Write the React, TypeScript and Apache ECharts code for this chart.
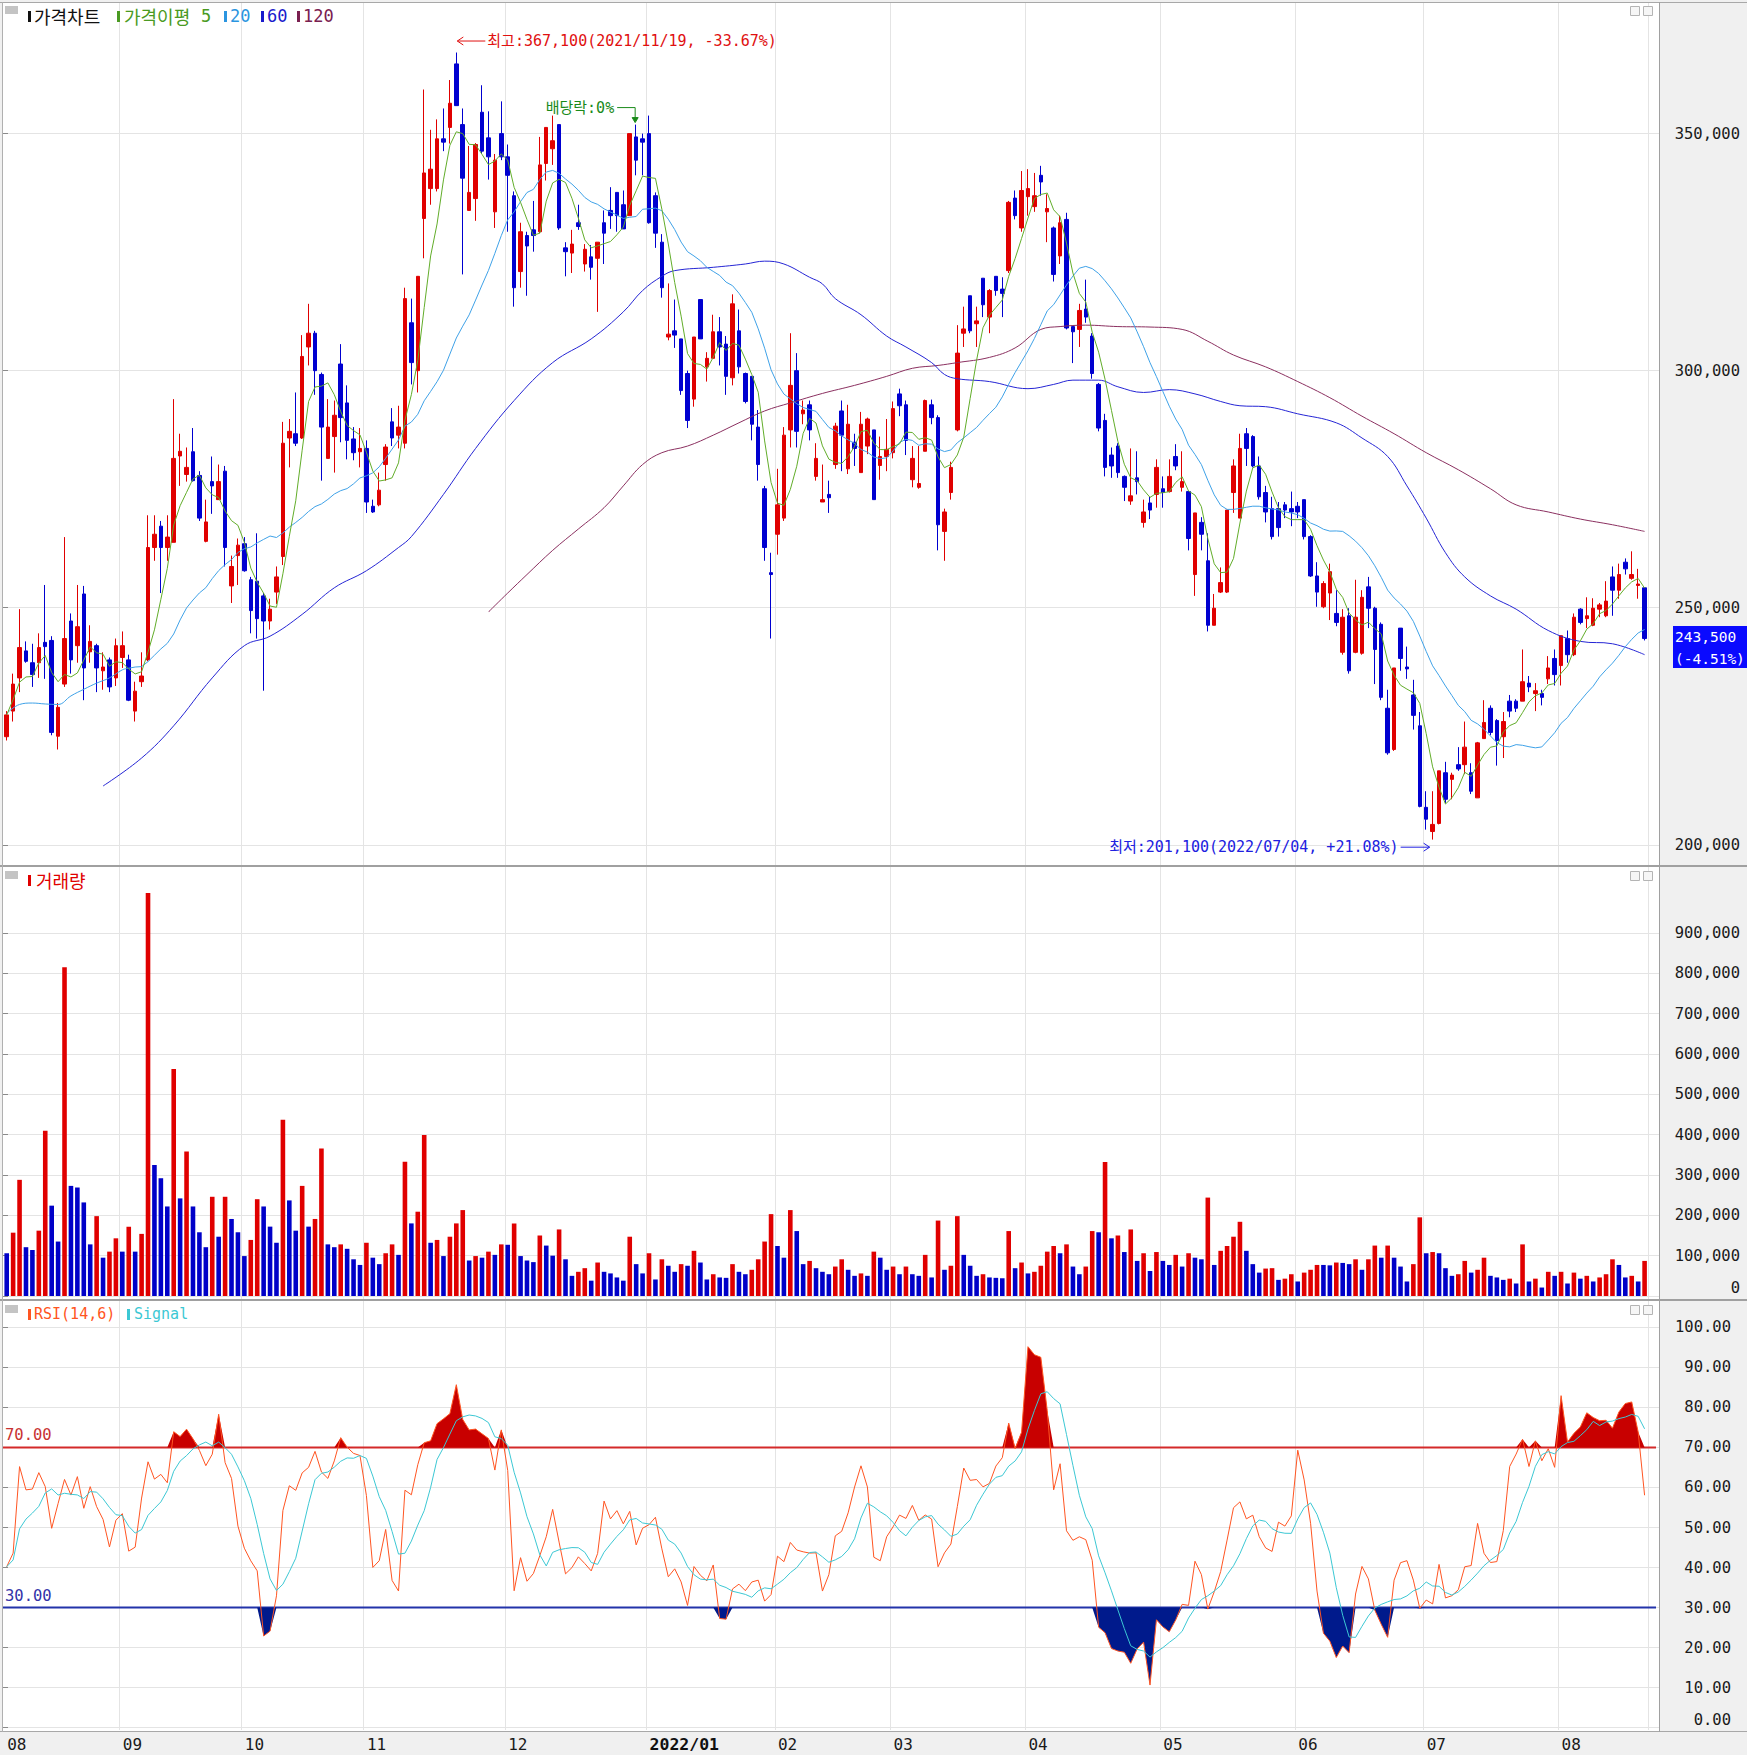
import React, { useEffect, useRef } from 'react';
import * as echarts from 'echarts';

// ---------- calendar (KRX trading days) ----------
const FIRST_DAY = '2021-08-05';
const LAST_DAY = '2022-08-19';
const HOLIDAYS = ['2021-08-16', '2021-09-20', '2021-09-21', '2021-09-22', '2021-10-04', '2021-10-11', '2021-12-31', '2022-01-31', '2022-02-01', '2022-02-02', '2022-03-01', '2022-03-09', '2022-05-05', '2022-06-01', '2022-06-06', '2022-08-15'];

// ---------- price data (won) ----------
const OPEN = [
  222800, 228200, 235200, 240900, 238400, 238400, 242700, 243100, 222900, 233900,
  247200, 242000, 252900, 240700, 242000, 236700, 239000, 235200, 239500, 239000,
  228200, 234400, 239000, 262700, 267200, 262700, 263800, 282000, 278100, 282900,
  277900, 264000, 276600, 272800, 278800, 254600, 261000, 263500, 255900, 255600,
  252500, 247200, 253300, 260800, 285800, 286700, 285800, 305000, 307900, 299200,
  281500, 286100, 301400, 293200, 285600, 282900, 283600, 271400, 271700, 280200,
  289200, 286400, 284700, 310100, 300000, 332100, 338400, 338400, 348900, 351300,
  364700, 351900, 333800, 336300, 354500, 349100, 333500, 350000, 345100, 336900,
  320900, 328500, 329700, 329300, 343700, 346800, 351900, 325900, 324800, 331200,
  322500, 324000, 323700, 331200, 333800, 337600, 335000, 332700, 349300, 348900,
  350000, 336900, 327100, 307100, 308400, 306700, 299400, 294000, 315000, 300800,
  302600, 308200, 305600, 298500, 308400, 299400, 298800, 288100, 275100, 257400,
  265500, 268900, 287500, 300000, 290900, 292800, 277700, 272300, 273900, 280200,
  291500, 279300, 284900, 278500, 284100, 287500, 280000, 281900, 282700, 295100,
  292800, 277000, 275400, 283000, 292800, 290100, 266100, 274300, 287500, 307900,
  315800, 309900, 319500, 311300, 319900, 317200, 321100, 336400, 330100, 336700,
  334600, 341200, 333500, 330100, 324200, 331900, 309300, 308700, 313000, 307300,
  297100, 289500, 282200, 284100, 277700, 272500, 277400, 268000, 272100, 273900,
  275100, 274500, 281900, 275400, 274500, 257000, 268000, 259900, 246300, 253300,
  253300, 274300, 268900, 286700, 286100, 279900, 274300, 270900, 270900, 271700,
  270900, 271400, 272800, 265000, 256700, 250200, 253100, 248800, 240600, 248300,
  240600, 240400, 254400, 249900, 246500, 228800, 220100, 245700, 237500, 231600,
  225100, 207900, 202800, 204500, 215200, 213800, 216900, 216900, 215200, 209900,
  222400, 228800, 226200, 222800, 230300, 230300, 230300, 234100, 231900, 231900,
  235000, 239300, 237800, 243500, 240100, 249700, 247700, 246300, 249700, 248300,
  256500, 253700, 259600, 256200, 254700, 254200,
];
const HIGH = [
  228200, 236100, 249700, 242900, 242400, 244600, 254800, 244000, 229900, 264900,
  248800, 254800, 254600, 246300, 242400, 240600, 239500, 243500, 245000, 240100,
  234400, 240600, 269500, 269500, 268300, 269500, 294000, 286700, 283800, 287900,
  278800, 272800, 281900, 280200, 279900, 261000, 264600, 264900, 256500, 265700,
  253100, 251900, 258700, 289200, 289800, 295400, 307500, 314100, 308400, 299600,
  294000, 293700, 305600, 296900, 288100, 287900, 285300, 272800, 278500, 284500,
  292100, 292600, 317500, 315200, 319900, 359300, 350800, 353000, 355300, 361300,
  367100, 355300, 347400, 348000, 360200, 354700, 345700, 356800, 347700, 337800,
  331200, 329300, 335800, 349300, 351300, 353800, 351900, 327100, 329700, 335000,
  326700, 326500, 327100, 333800, 338700, 337600, 338000, 350000, 351900, 350000,
  353800, 337600, 328800, 318400, 315000, 306700, 300000, 307100, 315000, 303900,
  311800, 311300, 307300, 316100, 312900, 299600, 298800, 291700, 275700, 261600,
  279300, 288100, 307900, 303700, 293700, 293700, 284700, 280200, 276800, 289000,
  293700, 292800, 286700, 291300, 290100, 287500, 286100, 289800, 293500, 296200,
  293700, 284100, 284100, 293900, 293900, 290600, 270900, 280800, 309600, 313500,
  315800, 313500, 319500, 317200, 319900, 319700, 335800, 338000, 342100, 342500,
  341700, 343200, 337200, 330400, 332700, 333300, 309300, 314100, 319200, 307900,
  297400, 290900, 283800, 284700, 277900, 283600, 283000, 272800, 273400, 281300,
  277700, 281300, 284500, 283000, 274500, 270000, 269100, 265700, 252900, 258500,
  270600, 281300, 286700, 287900, 286400, 281900, 275700, 273400, 272300, 272300,
  274500, 272300, 272800, 265300, 259600, 255600, 259300, 253700, 249700, 249900,
  255900, 253700, 256500, 250200, 246900, 232700, 237300, 245700, 241800, 234800,
  228000, 211300, 211300, 215600, 217500, 215200, 220600, 226000, 217200, 221700,
  230500, 229400, 226500, 228000, 231600, 230700, 241200, 235600, 234100, 232700,
  239800, 241200, 244100, 245200, 248800, 249900, 252200, 252000, 251000, 255600,
  258700, 259300, 260400, 261900, 258200, 254200,
];
const LOW = [
  222000, 226000, 232200, 238400, 233300, 235200, 235000, 223100, 220100, 233300,
  236100, 238400, 230500, 238400, 232200, 232700, 232200, 233500, 237300, 230300,
  226000, 233300, 238700, 259900, 253100, 259900, 263800, 275700, 276600, 276600,
  268300, 263800, 269800, 272800, 258700, 251000, 254800, 257600, 244600, 243500,
  232500, 245400, 250800, 259000, 279600, 284100, 285600, 301100, 294900, 276800,
  281500, 278500, 284900, 281300, 281100, 279600, 270000, 270000, 271400, 276800,
  284100, 283600, 283600, 297100, 295400, 323700, 335000, 337800, 346300, 347900,
  355900, 320300, 333800, 331600, 345700, 340300, 330100, 344400, 329300, 313500,
  317500, 315800, 325100, 329000, 340100, 343400, 329700, 319900, 320600, 329700,
  320900, 319200, 312400, 322500, 329900, 329300, 329900, 332700, 341200, 341200,
  331000, 325900, 315400, 306400, 304800, 294900, 287900, 292400, 306700, 297700,
  302600, 301100, 294900, 296900, 299400, 293100, 285300, 276800, 259900, 243500,
  261200, 268300, 283800, 283800, 288700, 285300, 276800, 272300, 270000, 279300,
  278800, 278200, 279900, 278500, 282400, 272800, 277000, 278800, 281500, 290400,
  282200, 275400, 275100, 283000, 288700, 262100, 259900, 272800, 287200, 305000,
  307900, 305000, 311300, 307900, 315800, 311300, 320600, 331900, 329300, 332700,
  333500, 336900, 327100, 318800, 322500, 308700, 301600, 305000, 310100, 298300,
  287200, 277700, 277400, 277400, 272500, 271700, 273900, 266900, 268700, 271100,
  271100, 274300, 279000, 274500, 262100, 252500, 262100, 245000, 246300, 253100,
  253100, 270000, 268900, 279900, 279600, 272800, 268000, 264400, 265000, 268900,
  267200, 268900, 264400, 256500, 250200, 249900, 247400, 246100, 240100, 236100,
  240400, 240100, 245700, 233900, 230500, 219000, 219800, 236700, 235000, 224300,
  207900, 203200, 201100, 204300, 208800, 209600, 215600, 214900, 210700, 209900,
  222400, 223100, 216700, 218300, 226900, 228000, 230300, 232200, 228200, 229400,
  233900, 233600, 233600, 238400, 239800, 246500, 245700, 246100, 248000, 248000,
  248300, 251900, 257000, 255900, 251900, 243100,
];
const CLOSE = [
  227400, 233900, 241600, 238700, 235900, 241600, 241800, 223700, 229000, 243500,
  239000, 246000, 237300, 242900, 237300, 237500, 233300, 242000, 242000, 230500,
  232400, 235600, 262700, 265500, 262700, 264900, 281500, 283000, 279600, 276800,
  268900, 268100, 275700, 276600, 262700, 258700, 263200, 257800, 249400, 247700,
  247200, 249700, 256500, 284700, 287200, 284700, 303000, 307900, 300000, 288100,
  288100, 290600, 290100, 285300, 282700, 283600, 272300, 270200, 274800, 283900,
  285800, 288100, 315200, 301700, 319900, 341700, 342500, 348900, 348200, 356400,
  355900, 340600, 337600, 347700, 346300, 345100, 344400, 345100, 341200, 317500,
  329300, 326300, 328500, 343400, 351300, 348500, 330100, 325100, 326700, 330400,
  325600, 321800, 327100, 329000, 332700, 332700, 329900, 350000, 344400, 348200,
  331200, 329000, 317500, 307700, 307500, 295800, 289500, 307100, 306700, 302600,
  308200, 305000, 298800, 314100, 300800, 293500, 288700, 280200, 262700, 257000,
  271700, 286400, 296900, 287200, 291700, 287500, 281500, 272800, 273200, 288300,
  286400, 288700, 283600, 288700, 289800, 272800, 281900, 283400, 292000, 292600,
  285300, 281500, 276200, 293700, 290100, 267500, 270200, 279600, 303700, 308800,
  308400, 310500, 313900, 316900, 316900, 316300, 335500, 332700, 338000, 338400,
  336900, 339800, 334200, 320300, 331200, 309000, 308200, 312700, 311300, 299400,
  287900, 279600, 279900, 278500, 275400, 273600, 276600, 270200, 270600, 279600,
  274300, 277700, 279900, 276600, 264600, 270000, 265500, 246300, 249900, 255300,
  270600, 279900, 283600, 283600, 279900, 273400, 270200, 265000, 266900, 270600,
  270200, 270200, 265000, 256700, 253300, 255100, 257600, 246900, 248000, 236700,
  248000, 252200, 249900, 241200, 231100, 219400, 237300, 239300, 237100, 227300,
  208100, 205400, 204300, 215600, 209600, 214700, 216000, 220600, 211300, 221500,
  225800, 223700, 222000, 226000, 228200, 228800, 234400, 233300, 232500, 231100,
  237300, 235900, 244100, 240100, 248000, 246900, 248300, 249900, 250600, 251400,
  253700, 257000, 258200, 257000, 255000, 243500,
];

// ---------- volume (thousand shares) ----------
const VOLUME_K = [
  106, 157, 288, 121, 114, 162, 410, 224, 135, 815,
  273, 269, 232, 128, 198, 95, 110, 143, 110, 172,
  110, 154, 999, 325, 292, 222, 563, 242, 358, 222,
  158, 121, 246, 147, 246, 191, 158, 99, 139, 240,
  222, 172, 132, 437, 237, 162, 273, 172, 191, 366,
  128, 121, 128, 117, 91, 77, 132, 95, 79, 106,
  128, 102, 333, 180, 209, 399, 132, 139, 99, 147,
  180, 213, 88, 99, 95, 110, 102, 128, 127, 180,
  99, 88, 84, 150, 125, 100, 165, 91, 50, 60,
  69, 38, 83, 60, 56, 46, 38, 147, 79, 56,
  106, 41, 91, 75, 60, 79, 75, 112, 83, 41,
  54, 46, 45, 79, 60, 54, 65, 91, 135, 203,
  124, 95, 213, 161, 79, 87, 69, 60, 54, 73,
  91, 65, 50, 56, 50, 110, 95, 65, 73, 54,
  73, 54, 50, 102, 46, 187, 65, 75, 198, 102,
  75, 50, 54, 46, 45, 44, 161, 69, 83, 56,
  60, 75, 110, 124, 106, 128, 73, 54, 73, 161,
  158, 332, 143, 150, 109, 165, 87, 106, 62, 109,
  87, 77, 102, 73, 106, 95, 91, 244, 77, 112,
  124, 147, 184, 112, 79, 58, 68, 69, 40, 43,
  54, 36, 58, 65, 77, 77, 76, 83, 82, 79,
  91, 65, 91, 125, 95, 125, 95, 73, 36, 79,
  195, 106, 109, 106, 69, 50, 54, 87, 58, 65,
  95, 50, 46, 40, 43, 31, 128, 36, 43, 21,
  60, 50, 60, 31, 58, 43, 50, 36, 46, 54,
  91, 77, 46, 50, 36, 87,
];

// ---------- moving averages (index, value) ----------
const MA20_HEAD: [number, number][] = [
  [0, 227700], [2, 229600], [4, 229900], [6, 229700], [8, 229600], [10, 231400],
  [12, 232800], [14, 234100], [16, 235200], [18, 236900],
];
const MA60_PTS: [number, number][] = [
  [15, 212400], [21, 218300], [26, 225100], [32, 235200], [37, 242000], [41, 244000],
  [46, 248600], [51, 254200], [56, 257800], [61, 262700], [63, 265000], [68, 273900],
  [73, 283600], [79, 293700], [85, 301700], [91, 306700], [96, 312400], [99, 316900],
  [102, 319900], [104, 321100], [110, 321800], [115, 322500], [118, 323100], [121, 322500],
  [125, 319700], [127, 318300], [129, 315200], [133, 311800], [137, 307300], [140, 305000],
  [144, 301700], [146, 299200], [148, 298300], [153, 297700], [159, 296200], [163, 297100],
  [166, 298000], [170, 298000], [173, 296600], [177, 295400], [181, 296000], [185, 295100],
  [189, 293500], [192, 292600], [196, 292400], [201, 290900], [207, 289000], [211, 285800],
  [215, 281900], [218, 275700], [221, 268900], [224, 261600], [227, 256500], [231, 252500],
  [235, 249700], [240, 245200], [245, 242900], [250, 242400], [255, 240100],
];
const MA120_PTS: [number, number][] = [
  [75, 249100], [78, 253100], [81, 257000], [85, 262100], [89, 266600], [93, 271100],
  [96, 275700], [99, 280200], [102, 282700], [106, 284100], [110, 286400], [114, 289000],
  [118, 291500], [122, 293200], [127, 295200], [132, 296900], [137, 298800], [141, 300500],
  [145, 301100], [148, 301700], [153, 302800], [157, 304800], [161, 308700], [164, 309300],
  [168, 309600], [173, 309300], [178, 309200], [183, 308700], [187, 306200], [191, 303300],
  [196, 300800], [201, 297700], [206, 294300], [211, 290400], [216, 286700], [221, 282700],
  [226, 279100], [231, 275100], [235, 271700], [240, 270200], [245, 268700], [250, 267500],
  [255, 266100],
];
// first 14 RSI values (history before the window)
const RSI_HEAD = [40.2, 43.6, 65.2, 59.4, 59.6, 63.7, 60.2, 49.8, 56.0, 62.0, 58.1, 62.7, 54.8, 60.2];
const RSI_N = 14;
const SIGNAL_N = 6;

// ---------- texts ----------
const HIGH_NOTE = { index: 70, value: 367100, text: '최고:367,100(2021/11/19, -33.67%)' };
const LOW_NOTE = { index: 222, value: 201100, text: '최저:201,100(2022/07/04, +21.08%)' };
const EXDIV_NOTE = { index: 98, text: '배당락:0%' };
const LAST_TEXT = ['243,500', '(-4.51%)'];

// ---------- colors / fonts ----------
const C_UP = '#e00000';
const C_DN = '#0000d0';
const C_MA5 = '#62ad2a';
const C_MA20 = '#3fa2e8';
const C_MA60 = '#2525d5';
const C_MA120 = '#8b3060';
const C_RSI = '#ff5522';
const C_SIG = '#3cc8d4';
const GRID_C = '#e4e4e4';
const MONO = '"DejaVu Sans Mono"';
const KR = '"Noto Sans CJK KR"';
const MIX = '"DejaVu Sans Mono", "Noto Sans CJK KR"';

function buildDates(): string[] {
  const hol = new Set(HOLIDAYS);
  const out: string[] = [];
  const d = new Date(FIRST_DAY + 'T00:00:00Z');
  const end = new Date(LAST_DAY + 'T00:00:00Z').getTime();
  while (d.getTime() <= end) {
    const s = d.toISOString().slice(0, 10);
    const wd = d.getUTCDay();
    if (wd !== 0 && wd !== 6 && !hol.has(s)) out.push(s);
    d.setUTCDate(d.getUTCDate() + 1);
  }
  return out;
}

export default function App() {
  const ref = useRef<HTMLDivElement>(null);
  useEffect(() => {
    const el = ref.current!;
    const chart = echarts.init(el, undefined, { renderer: 'svg' });
    const DATES = buildDates();
    const N = CLOSE.length;
    const MONTH_START = DATES.map((d, i) => i === 0 || d.slice(0, 7) !== DATES[i - 1].slice(0, 7));
    const monthLabel = (i: number) => {
      const d = DATES[i];
      const m = d.slice(5, 7);
      return m === '01' ? `{b|${d.slice(0, 4)}/01}` : m;
    };

    const avg = (arr: number[], a: number, b: number) => {
      let t = 0;
      for (let j = a; j <= b; j++) t += arr[j];
      return t / (b - a + 1);
    };
    const CANDLES = OPEN.map((o, i) => [o, CLOSE[i], LOW[i], HIGH[i]]);
    const MA5 = CLOSE.map((_, i) => Math.round(avg(CLOSE, Math.max(0, i - 4), i)));
    const MA20_START = 19;
    const MA20_TAIL = CLOSE.map((_, i) => (i < MA20_START ? null : Math.round(avg(CLOSE, i - 19, i))));
    const MA20_HEAD_LINE = [...MA20_HEAD, [MA20_START, MA20_TAIL[MA20_START] as number]];
    const RSI = CLOSE.map((_, i) => {
      if (i < RSI_N) return RSI_HEAD[i];
      let g = 0;
      let l = 0;
      for (let j = i - RSI_N + 1; j <= i; j++) {
        const dd = CLOSE[j] - CLOSE[j - 1];
        if (dd > 0) g += dd;
        else l -= dd;
      }
      return g + l === 0 ? 50 : (100 * g) / (g + l);
    });
    const SIGNAL = RSI.map((_, i) => avg(RSI, Math.max(0, i - SIGNAL_N + 1), i));
    const VOL = VOLUME_K.map((v) => v * 1000);
    const VOL_ITEMS = VOL.map((v, i) => ({
      value: v,
      itemStyle: { color: i > 0 && v > VOL[i - 1] ? C_UP : '#0000c8' },
    }));

    const DATA_LEFT = 3.5;
    const DATA_W = 1644.3;
    const FRAME_LEFT = 3;
    const FRAME_W = 1656;
    const P_TOP = 133.6, P_H = 711.2;
    const V_TOP = 933, V_H = 363;
    const R_TOP = 1327.3, R_H = 400.4;

    // bottom label of a panel sits a little above its line (kept inside the panel)
    const lift = (s: string, v: number, min: number) => (v === min ? `{z|${s}}` : s);
    const fmtComma = (min: number) => (v: number) => lift(Math.round(v).toLocaleString('en-US'), v, min);
    const fmtFix = (min: number) => (v: number) => lift(v.toFixed(2), v, min);
    const frameY = (gi: number, min: number, max: number, interval: number, fmt: (v: number) => string, margin: number, liftPad: number) => ({
      type: 'value', gridIndex: gi, position: 'right', min, max, interval,
      axisLine: { show: false },
      axisTick: { show: true, length: 5, lineStyle: { color: '#8a8a8a' } },
      axisLabel: {
        formatter: fmt, align: 'right', margin, fontFamily: MONO, fontSize: 15.5, color: '#1a1a1a',
        rich: { z: { fontFamily: MONO, fontSize: 15.5, color: '#1a1a1a', padding: [0, 0, liftPad, 0] } },
      },
      splitLine: { show: true, lineStyle: { color: GRID_C, width: 1 } },
    });
    const hidden = { show: false };
    const lineS = (xi: number, yi: number, data: any, color: string, smooth: any = false) => ({
      type: 'line', xAxisIndex: xi, yAxisIndex: yi, data, symbol: 'none', smooth,
      lineStyle: { color, width: 1 }, clip: false, silent: true, connectNulls: false,
    });

    const option: any = {
      animation: false,
      backgroundColor: '#f0f0f0',
      grid: [
        { left: DATA_LEFT, width: DATA_W, top: P_TOP, height: P_H },
        { left: DATA_LEFT, width: DATA_W, top: V_TOP, height: V_H },
        { left: DATA_LEFT, width: DATA_W, top: R_TOP, height: R_H },
        { left: FRAME_LEFT, width: FRAME_W, top: P_TOP, height: P_H },
        { left: FRAME_LEFT, width: FRAME_W, top: V_TOP, height: V_H },
        { left: FRAME_LEFT, width: FRAME_W, top: R_TOP, height: R_H },
        { left: 4, width: DATA_W, top: 3, height: 1727 },
      ],
      xAxis: [
        { type: 'category', gridIndex: 0, data: DATES, boundaryGap: true, ...hidden },
        { type: 'category', gridIndex: 1, data: DATES, boundaryGap: true, ...hidden },
        { type: 'category', gridIndex: 2, data: DATES, boundaryGap: true, ...hidden },
        { type: 'value', gridIndex: 0, min: -0.5, max: N - 0.5, position: 'top', ...hidden },
        {
          type: 'category', gridIndex: 6, data: DATES, boundaryGap: true, position: 'bottom',
          axisLine: { show: false }, axisTick: { show: false },
          axisLabel: {
            interval: (i: number) => MONTH_START[i],
            formatter: (_v: string, i: number) => monthLabel(i),
            align: 'left', margin: 6, fontFamily: MONO, fontSize: 16, color: '#1a1a1a',
            rich: { b: { fontWeight: 'bold', fontSize: 16.5, fontFamily: MONO, color: '#111' } },
          },
          splitLine: { show: true, interval: (i: number) => MONTH_START[i] && i > 0, lineStyle: { color: GRID_C, width: 1 } },
        },
        { type: 'value', gridIndex: 3, min: 0, max: 1, ...hidden },
        { type: 'value', gridIndex: 4, min: 0, max: 1, ...hidden },
        { type: 'value', gridIndex: 5, min: 0, max: 1, ...hidden },
      ],
      yAxis: [
        { type: 'value', gridIndex: 0, min: 200000, max: 350000, ...hidden },
        { type: 'value', gridIndex: 1, min: 0, max: 900000, ...hidden },
        { type: 'value', gridIndex: 2, min: 0, max: 100, ...hidden },
        frameY(3, 200000, 350000, 50000, fmtComma(-1), 81, 0),
        frameY(4, 0, 900000, 100000, fmtComma(0), 81, 16),
        frameY(5, 0, 100, 10, fmtFix(0), 72, 16),
        { type: 'value', gridIndex: 6, min: 0, max: 1, ...hidden },
      ],
      series: [
        {
          type: 'candlestick', xAxisIndex: 0, yAxisIndex: 0, data: CANDLES, barWidth: 4, clip: false, silent: true,
          itemStyle: { color: C_UP, color0: C_DN, borderColor: C_UP, borderColor0: C_DN, borderWidth: 1 },
        },
        lineS(3, 0, MA120_PTS, C_MA120, 0.4),
        lineS(3, 0, MA60_PTS, C_MA60, 0.4),
        lineS(3, 0, MA20_HEAD_LINE, C_MA20, 0.4),
        lineS(0, 0, MA20_TAIL, C_MA20),
        lineS(0, 0, MA5, C_MA5),
        { type: 'bar', xAxisIndex: 1, yAxisIndex: 1, data: VOL_ITEMS, barWidth: 4.6, clip: false, silent: true },
        { type: 'line', xAxisIndex: 2, yAxisIndex: 2, stack: 'hi', data: RSI.map(() => 70), symbol: 'none', lineStyle: { width: 0, opacity: 0 }, silent: true },
        { type: 'line', xAxisIndex: 2, yAxisIndex: 2, stack: 'hi', data: RSI.map((r) => Math.max(r, 70) - 70), symbol: 'none', lineStyle: { width: 0, opacity: 0 }, areaStyle: { color: '#c80000', opacity: 1 }, silent: true },
        { type: 'line', xAxisIndex: 2, yAxisIndex: 2, stack: 'lo', data: RSI.map((r) => Math.min(r, 30)), symbol: 'none', lineStyle: { width: 0, opacity: 0 }, silent: true },
        { type: 'line', xAxisIndex: 2, yAxisIndex: 2, stack: 'lo', data: RSI.map((r) => 30 - Math.min(r, 30)), symbol: 'none', lineStyle: { width: 0, opacity: 0 }, areaStyle: { color: '#001a8c', opacity: 1 }, silent: true },
        lineS(2, 2, RSI, C_RSI),
        lineS(2, 2, SIGNAL, C_SIG),
      ],
    };
    chart.setOption(option);

    // ---------- decorations ----------
    const rect = (x: number, y: number, w: number, h: number, fill: string, z = -10, stroke?: string) => ({
      type: 'rect', shape: { x, y, width: w, height: h }, style: { fill, stroke, lineWidth: 1 }, z, silent: true,
    });
    const seg = (x1: number, y1: number, x2: number, y2: number, stroke: string, lw = 1, z = 50) => ({
      type: 'line', shape: { x1, y1, x2, y2 }, style: { stroke, lineWidth: lw }, z, silent: true,
    });
    const txt = (x: number, y: number, t: string, fill: string, size = 15, family = MONO, align = 'left', weight = 'normal', z = 60) => ({
      type: 'text', x, y, style: { text: t, fill, fontSize: size, fontFamily: family, fontWeight: weight, align, verticalAlign: 'middle' }, z, silent: true,
    });
    const poly = (pts: number[][], stroke: string, fill?: string, z = 60) => ({
      type: fill ? 'polygon' : 'polyline', shape: { points: pts }, style: { stroke, fill: fill || 'none', lineWidth: 1 }, z, silent: true,
    });

    const px = (i: number, v: number) => chart.convertToPixel({ xAxisIndex: 0, yAxisIndex: 0 }, [i, v]) as number[];
    const rsiY = (v: number) => (chart.convertToPixel({ xAxisIndex: 2, yAxisIndex: 2 }, [0, v]) as number[])[1];

    const g: any[] = [];
    // panels
    g.push(rect(3, 3, 1656, 862, '#ffffff'));
    g.push(rect(3, 867, 1656, 432, '#ffffff'));
    g.push(rect(3, 1301, 1656, 430, '#ffffff'));
    // borders
    g.push(seg(0, 2.5, 1747, 2.5, '#a8a8a8'));
    g.push(seg(0, 866, 1747, 866, '#a0a0a0', 2));
    g.push(seg(0, 1300, 1747, 1300, '#a0a0a0', 2));
    g.push(seg(0, 1731.5, 1747, 1731.5, '#a8a8a8'));
    g.push(seg(2.5, 2, 2.5, 1732, '#b0b0b0'));
    g.push(seg(1659.5, 2, 1659.5, 1732, '#a0a0a0'));
    // panel buttons
    [6, 871, 1305].forEach((y) => {
      g.push(rect(5, y, 13, 8, '#c4c4c4', 55));
      g.push(rect(1630.5, y + 0.5, 9, 9, '#f6f6f6', 55, '#b4b4b4'));
      g.push(rect(1643.5, y + 0.5, 9, 9, '#f6f6f6', 55, '#b4b4b4'));
    });
    // legends
    const legendBar = (x: number, y: number, c: string) => rect(x, y - 5, 3, 11, c, 55);
    g.push(legendBar(28, 16, '#111'));
    g.push(txt(34, 16, '가격차트', '#111', 18, KR));
    g.push(legendBar(117, 16, '#4a9a22'));
    g.push(txt(124, 16, '가격이평', '#4a9a22', 18, KR));
    g.push(txt(201, 16, '5', '#4a9a22', 17));
    g.push(legendBar(224, 16, '#2b95e0'));
    g.push(txt(230, 16, '20', '#2b95e0', 17));
    g.push(legendBar(261, 16, '#1a1acc'));
    g.push(txt(267, 16, '60', '#1a1acc', 17));
    g.push(legendBar(297, 16, '#7a2050'));
    g.push(txt(303, 16, '120', '#7a2050', 17));

    g.push(legendBar(28, 880, C_UP));
    g.push(txt(36, 880, '거래량', C_UP, 18, KR));

    g.push(legendBar(28, 1314, C_RSI));
    g.push(txt(34, 1314, 'RSI(14,6)', C_RSI, 15));
    g.push(legendBar(127, 1314, C_SIG));
    g.push(txt(134, 1314, 'Signal', C_SIG, 15));

    // RSI reference lines
    const y70 = rsiY(70);
    const y30 = rsiY(30);
    g.push(seg(3, y70, 1656, y70, '#d42a2a', 2, 1));
    g.push(seg(3, y30, 1656, y30, '#2233aa', 2, 1));
    g.push(txt(5, y70 - 12, '70.00', '#c83232', 15.5));
    g.push(txt(5, y30 - 12, '30.00', '#3232a8', 15.5));

    // high annotation
    const P = px(HIGH_NOTE.index, HIGH_NOTE.value);
    const ay = P[1] - 11.5;
    g.push(seg(P[0] + 1, ay, P[0] + 29, ay, '#e01010', 1, 60));
    g.push(poly([[P[0] + 7, ay - 4], [P[0] + 1, ay], [P[0] + 7, ay + 4]], '#e01010'));
    g.push(txt(P[0] + 31, ay, HIGH_NOTE.text, '#e01010', 15, MIX));

    // ex-dividend annotation
    const Q = px(EXDIV_NOTE.index, HIGH[EXDIV_NOTE.index]);
    const qy = Q[1] - 17;
    g.push(txt(Q[0] - 22, qy, EXDIV_NOTE.text, '#1a8a1a', 15, MIX, 'right'));
    g.push(poly([[Q[0] - 19, qy], [Q[0] - 1, qy], [Q[0] - 1, Q[1] - 5]], '#1a8a1a'));
    g.push(poly([[Q[0] - 4, Q[1] - 7], [Q[0] + 2, Q[1] - 7], [Q[0] - 1, Q[1] - 2]], '#1a8a1a', '#1a8a1a'));

    // low annotation
    const R = px(LOW_NOTE.index, LOW_NOTE.value);
    const ry = R[1] + 7.6;
    g.push(txt(R[0] - 34, ry, LOW_NOTE.text, '#2020e0', 15, MIX, 'right'));
    g.push(seg(R[0] - 32, ry, R[0] - 3, ry, '#2020e0', 1, 60));
    g.push(poly([[R[0] - 9, ry - 4], [R[0] - 3, ry], [R[0] - 9, ry + 4]], '#2020e0'));

    // last price box
    const S = px(N - 1, CLOSE[N - 1]);
    g.push(rect(1673, S[1] - 12.6, 74, 42, '#0a0aff', 58));
    g.push(txt(1675, S[1] - 1.3, LAST_TEXT[0], '#ffffff', 14.5));
    g.push(txt(1675, S[1] + 20.4, LAST_TEXT[1], '#ffffff', 14.5));

    chart.setOption({ graphic: g });

    return () => chart.dispose();
  }, []);
  return <div ref={ref} style={{ position: 'fixed', left: 0, top: 0, width: 1747, height: 1755 }} />;
}
